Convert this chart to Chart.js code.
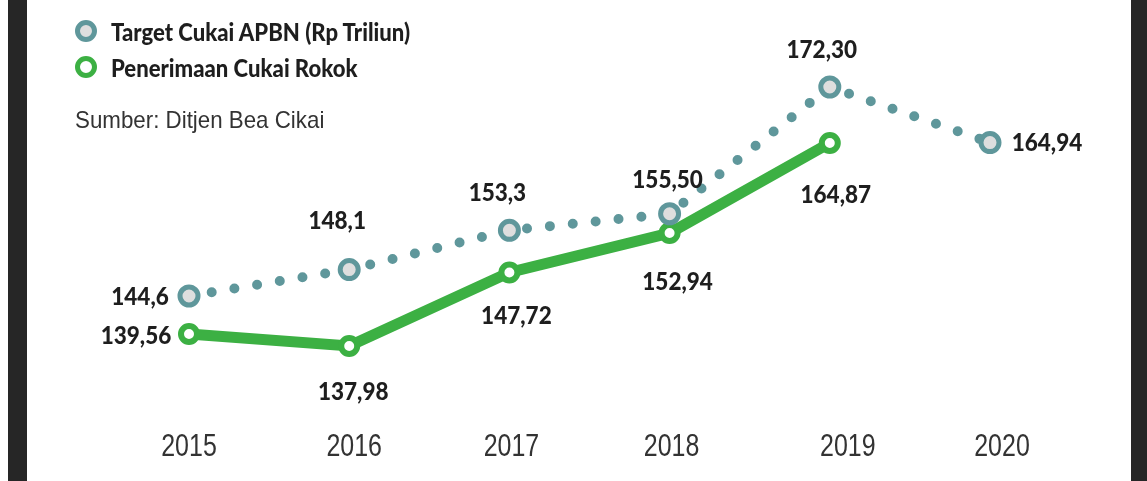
<!DOCTYPE html>
<html>
<head>
<meta charset="utf-8">
<script src="https://cdn.jsdelivr.net/npm/chart.js@4"></script>
<style>
    html, body {margin: 0; padding: 0; background: #fff;}
    .wrap {position: relative; width: 1147px; height: 481px; overflow: hidden; background: #fff;}
    .bar {position: absolute; top: 0; height: 481px; background: #262626;}
    .legend {position: absolute; left: 75px; top: 13px; font-family: Lato, sans-serif;}
    .item {display: flex; align-items: center; height: 36px; font-weight: 900; font-size: 24px; color: #1e1e1e;}
    .item span.txt {display: inline-block; transform: scaleX(0.92); transform-origin: left center; white-space: nowrap;}
    .dot {width: 12px; height: 12px; border-radius: 50%; margin-right: 14px; box-sizing: content-box;}
    .source {position: absolute; left: 75px; top: 106px; font-family: "Liberation Sans", sans-serif; font-size: 24px; color: #333;
             transform: scaleX(0.93); transform-origin: left center; white-space: nowrap;}
    canvas {position: absolute; left: 0; top: 0;}
</style>
</head>
<body>
<div class="wrap">
    <canvas id="chart" width="1147" height="481"></canvas>
    <div class="bar" style="left:8px;width:19px"></div>
    <div class="bar" style="left:1131px;width:16px"></div>
    <div class="legend">
        <div class="item"><span class="dot" style="background:#dedede;border:5px solid #5f979b"></span><span class="txt">Target Cukai APBN (Rp Triliun)</span></div>
        <div class="item"><span class="dot" style="background:#fff;border:5px solid #3cb043"></span><span class="txt">Penerimaan Cukai Rokok</span></div>
    </div>
    <div class="source">Sumber: Ditjen Bea Cikai</div>
</div>
<script>
    const years = ['2015', '2016', '2017', '2018', '2019', '2020'];
    const target = [144.6, 148.1, 153.3, 155.5, 172.3, 164.94];
    const targetLabels = ['144,6', '148,1', '153,3', '155,50', '172,30', '164,94'];
    const penerimaan = [139.56, 137.98, 147.72, 152.94, 164.87, null];
    const penerimaanLabels = ['139,56', '137,98', '147,72', '152,94', '164,87', ''];

    // label offset from its point, in px
    const targetOffsets = [[-49, 1], [-12, -49], [-12, -37], [-2, -34], [-8, -37], [57, 0]];
    const penerimaanOffsets = [[-53, 2], [4, 46], [7, 43], [8, 49], [6, 52], [0, 0]];
    // year labels sit a bit off the points in the original
    const yearShift = [0, 5, 2, 2, 18, 12];

    const teal = '#5f979b';
    const green = '#3cb043';

    // draw narrow text by squeezing it horizontally
    function narrowText(ctx, text, x, y, squeeze) {
        ctx.save();
        ctx.translate(x, y);
        ctx.scale(squeeze, 1);
        ctx.fillText(text, 0, 0);
        ctx.restore();
    }

    const textPlugin = {
        id: 'textPlugin',
        afterDatasetsDraw(chart) {
            const ctx = chart.ctx;
            const sets = [[targetLabels, targetOffsets], [penerimaanLabels, penerimaanOffsets]];
            ctx.save();
            ctx.textAlign = 'center';
            ctx.textBaseline = 'middle';

            ctx.font = '900 25px Lato, sans-serif';
            ctx.fillStyle = '#1e1e1e';
            sets.forEach(([labels, offsets], i) => {
                const meta = chart.getDatasetMeta(i);
                meta.data.forEach((pt, j) => {
                    if (!labels[j]) return;
                    narrowText(ctx, labels[j], pt.x + offsets[j][0], pt.y + offsets[j][1], 0.9);
                });
            });

            // year labels under the chart
            const xScale = chart.scales.x;
            ctx.font = '32px "Liberation Sans", sans-serif';
            ctx.fillStyle = '#333';
            years.forEach((y, i) => {
                narrowText(ctx, y, xScale.getPixelForTick(i) + yearShift[i], 447, 0.78);
            });
            ctx.restore();
        }
    };

    const ctx = document.getElementById('chart').getContext('2d');
    new Chart(ctx, {
        type: 'line',
        data: {
            labels: years,
            datasets: [{
                label: 'Target Cukai APBN (Rp Triliun)',
                data: target,
                borderColor: teal,
                borderWidth: 10,
                borderDash: [0, 23],
                borderCapStyle: 'round',
                pointRadius: 9,
                pointBorderWidth: 5,
                pointBorderColor: teal,
                pointBackgroundColor: '#dedede',
                clip: false,
            }, {
                label: 'Penerimaan Cukai Rokok',
                data: penerimaan,
                borderColor: green,
                borderWidth: 11,
                pointRadius: 8,
                pointBorderWidth: 6,
                pointBorderColor: green,
                pointBackgroundColor: '#fff',
                clip: false,
            }]
        },
        options: {
            responsive: false,
            animation: false,
            layout: {padding: {left: 189, right: 157, top: 28.9, bottom: 67.3}},
            plugins: {legend: {display: false}, tooltip: {enabled: false}},
            scales: {
                x: {
                    display: false,
                    offset: false
                },
                y: {
                    display: false,
                    min: 129,
                    max: 180
                }
            }
        },
        plugins: [textPlugin]
    });
</script>
</body>
</html>
